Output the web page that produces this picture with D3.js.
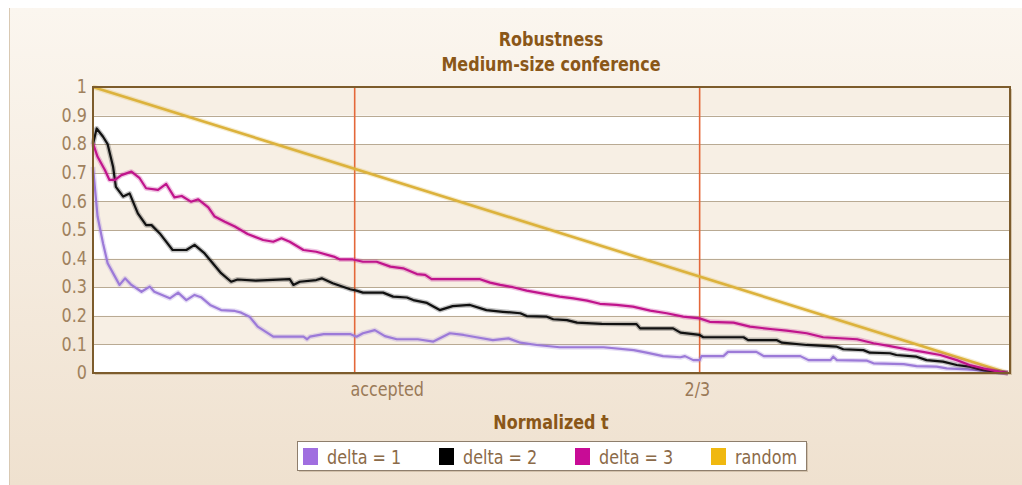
<!DOCTYPE html>
<html>
<head>
<meta charset="utf-8">
<script src="https://cdn.jsdelivr.net/npm/d3@7"></script>
<style>
  html, body { margin: 0; padding: 0; background: #fff; }
  svg { display: block; font-family: "DejaVu Sans", Verdana, sans-serif; }
</style>
</head>
<body>
<div id="chart"></div>
<script>
var w = 1022, h = 485;

// series: [normalized t, robustness]
var delta1 = [
  [0,0.72],[0.002,0.651],[0.005,0.547],[0.011,0.453],[0.016,0.384],[0.024,0.337],[0.029,0.308],
  [0.035,0.331],[0.042,0.308],[0.053,0.284],[0.062,0.302],[0.067,0.284],[0.084,0.261],[0.093,0.281],
  [0.102,0.255],[0.111,0.273],[0.118,0.265],[0.128,0.238],[0.140,0.22],[0.155,0.217],[0.162,0.211],
  [0.171,0.197],[0.177,0.174],[0.180,0.162],[0.197,0.127],[0.230,0.127],[0.234,0.118],[0.237,0.127],
  [0.252,0.136],[0.281,0.136],[0.288,0.127],[0.295,0.139],[0.308,0.15],[0.319,0.129],[0.332,0.118],
  [0.355,0.118],[0.372,0.11],[0.390,0.139],[0.405,0.133],[0.419,0.125],[0.437,0.115],[0.454,0.121],
  [0.467,0.106],[0.485,0.098],[0.510,0.09],[0.558,0.09],[0.591,0.08],[0.605,0.071],[0.623,0.059],
  [0.642,0.055],[0.647,0.059],[0.656,0.045],[0.663,0.045],[0.665,0.059],[0.689,0.059],[0.694,0.074],
  [0.725,0.074],[0.733,0.059],[0.773,0.059],[0.782,0.045],[0.806,0.045],[0.809,0.057],[0.813,0.045],
  [0.846,0.043],[0.853,0.034],[0.886,0.031],[0.900,0.024],[0.922,0.022],[0.933,0.016],[0.955,0.013],
  [0.973,0.008],[0.991,0.002],[1,0]
];
var delta2 = [
  [0,0.80],[0.004,0.855],[0.011,0.826],[0.016,0.80],[0.022,0.72],[0.025,0.651],[0.033,0.617],
  [0.040,0.628],[0.049,0.558],[0.058,0.517],[0.064,0.517],[0.073,0.488],[0.087,0.43],[0.102,0.43],
  [0.111,0.448],[0.122,0.418],[0.140,0.349],[0.151,0.319],[0.158,0.327],[0.178,0.323],[0.215,0.328],
  [0.219,0.308],[0.226,0.319],[0.244,0.325],[0.250,0.331],[0.262,0.314],[0.281,0.293],[0.288,0.288],
  [0.295,0.281],[0.317,0.281],[0.328,0.267],[0.343,0.264],[0.350,0.255],[0.365,0.245],[0.379,0.22],
  [0.393,0.234],[0.412,0.238],[0.430,0.22],[0.448,0.214],[0.467,0.209],[0.474,0.199],[0.496,0.197],
  [0.503,0.188],[0.518,0.185],[0.529,0.176],[0.556,0.172],[0.594,0.171],[0.598,0.156],[0.634,0.156],
  [0.642,0.141],[0.663,0.133],[0.667,0.125],[0.711,0.125],[0.716,0.115],[0.747,0.115],[0.753,0.106],
  [0.780,0.098],[0.813,0.092],[0.820,0.083],[0.842,0.08],[0.849,0.071],[0.871,0.069],[0.878,0.063],
  [0.900,0.057],[0.911,0.045],[0.929,0.04],[0.944,0.028],[0.958,0.022],[0.973,0.01],[0.991,0.003],[1,0]
];
var delta3 = [
  [0,0.803],[0.005,0.756],[0.013,0.71],[0.018,0.675],[0.024,0.675],[0.031,0.692],[0.042,0.704],
  [0.051,0.681],[0.058,0.646],[0.071,0.64],[0.080,0.661],[0.089,0.614],[0.097,0.619],[0.107,0.599],
  [0.115,0.607],[0.126,0.579],[0.133,0.547],[0.144,0.529],[0.155,0.512],[0.169,0.486],[0.186,0.465],
  [0.197,0.459],[0.206,0.471],[0.215,0.459],[0.230,0.43],[0.244,0.424],[0.263,0.407],[0.270,0.397],
  [0.284,0.397],[0.295,0.389],[0.310,0.389],[0.325,0.372],[0.339,0.366],[0.354,0.346],[0.363,0.343],
  [0.370,0.328],[0.423,0.328],[0.434,0.316],[0.445,0.308],[0.459,0.30],[0.474,0.288],[0.489,0.279],
  [0.510,0.267],[0.525,0.261],[0.540,0.253],[0.554,0.242],[0.572,0.238],[0.590,0.232],[0.609,0.218],
  [0.627,0.209],[0.645,0.197],[0.663,0.191],[0.674,0.179],[0.700,0.176],[0.718,0.162],[0.743,0.153],
  [0.758,0.148],[0.780,0.139],[0.798,0.125],[0.835,0.118],[0.853,0.104],[0.871,0.094],[0.889,0.083],
  [0.907,0.074],[0.926,0.063],[0.944,0.045],[0.958,0.028],[0.973,0.016],[0.991,0.004],[1,0]
];
var random = [[0,1],[1,0]];

var seriesNames = ['delta = 1', 'delta = 2', 'delta = 3', 'random'];
var seriesData = [delta1, delta2, delta3, random];
var lineColors = ['#9c7ad8', '#111111', '#c0148c', '#dcb23c'];
var swatchColors = ['#a06ee0', '#000000', '#c80c96', '#f0b810'];

var yTicks = [0, 0.1, 0.2, 0.3, 0.4, 0.5, 0.6, 0.7, 0.8, 0.9, 1];
var markerT = [0.286, 0.663];
var xTickT = [0.321, 0.660];
var xTickLabels = ['accepted', '2/3'];

var title = 'Robustness';
var subtitle = 'Medium-size conference';
var xTitle = 'Normalized t';

var plot = {left: 93, right: 1010, top: 87, bottom: 373};

var x = d3.scaleLinear().domain([0, 1]).range([plot.left, plot.right - 2]);
var y = d3.scaleLinear().domain([0, 1]).range([plot.bottom, plot.top]);

var svg = d3.select('#chart').append('svg')
  .attr('width', w)
  .attr('height', h);

var defs = svg.append('defs');
var grad = defs.append('linearGradient')
  .attr('id', 'bg')
  .attr('x1', 0).attr('y1', 0).attr('x2', 0).attr('y2', 1);
grad.append('stop').attr('offset', '0%').attr('stop-color', '#fbf6ef');
grad.append('stop').attr('offset', '100%').attr('stop-color', '#efe1cf');

// panel
svg.append('rect')
  .attr('x', 9).attr('y', 8)
  .attr('width', w - 9).attr('height', h - 8)
  .attr('fill', 'url(#bg)');
svg.append('line')
  .attr('x1', 9.5).attr('x2', 9.5).attr('y1', 8).attr('y2', h)
  .attr('stroke', '#d9c9b3');

// titles
function stretchText(sel, tx, ty) {
  return sel.append('g').attr('transform', 'translate(' + [tx, ty] + ') scale(1,1.2)').append('text');
}
stretchText(svg, 551, 39)
  .attr('text-anchor', 'middle').attr('dy', '0.35em')
  .style('font-size', '16px').style('font-weight', 'bold').attr('fill', '#8a5718')
  .text(title);
stretchText(svg, 551, 64)
  .attr('text-anchor', 'middle').attr('dy', '0.35em')
  .style('font-size', '16px').style('font-weight', 'bold').attr('fill', '#8a5718')
  .text(subtitle);

// plot background bands
var pw = plot.right - plot.left;
svg.append('rect')
  .attr('x', plot.left + 2).attr('y', plot.top + 2)
  .attr('width', pw).attr('height', plot.bottom - plot.top)
  .attr('fill', '#c9b395').attr('opacity', 0.7);
svg.append('rect')
  .attr('x', plot.left).attr('y', plot.top)
  .attr('width', pw).attr('height', plot.bottom - plot.top)
  .attr('fill', '#ffffff');
svg.selectAll('.band')
  .data(yTicks.slice(1).filter(function(d, i) { return i % 2 === 1; }))
  .enter().append('rect')
    .attr('class', 'band')
    .attr('x', plot.left)
    .attr('y', function(d) { return y(d); })
    .attr('width', pw)
    .attr('height', function(d) { return y(d - 0.1) - y(d); })
    .attr('fill', '#f7efe4');

// grid
svg.selectAll('.grid')
  .data(yTicks.slice(1, -1))
  .enter().append('line')
    .attr('class', 'grid')
    .attr('x1', plot.left).attr('x2', plot.right)
    .attr('y1', function(d) { return Math.round(y(d)) + 0.5; })
    .attr('y2', function(d) { return Math.round(y(d)) + 0.5; })
    .attr('stroke', '#b9aa93').attr('stroke-width', 1);

// markers
svg.selectAll('.marker')
  .data(markerT)
  .enter().append('line')
    .attr('class', 'marker')
    .attr('x1', function(d) { return x(d); }).attr('x2', function(d) { return x(d); })
    .attr('y1', plot.top).attr('y2', plot.bottom)
    .attr('stroke', '#e4683a').attr('stroke-width', 1.6);

// series lines
var line = d3.line()
  .x(function(d) { return x(d[0]); })
  .y(function(d) { return y(d[1]); });

var order = [3, 0, 1, 2];
order.forEach(function(i) {
  svg.append('path')
    .datum(seriesData[i])
    .attr('d', line)
    .attr('fill', 'none')
    .attr('stroke', lineColors[i])
    .attr('stroke-opacity', 0.25)
    .attr('stroke-width', 5)
    .attr('stroke-linejoin', 'round');
  svg.append('path')
    .datum(seriesData[i])
    .attr('d', line)
    .attr('fill', 'none')
    .attr('stroke', lineColors[i])
    .attr('stroke-width', i === 3 ? 2.6 : 2.2)
    .attr('stroke-linejoin', 'round');
});

// plot border
svg.append('rect')
  .attr('x', plot.left).attr('y', plot.top)
  .attr('width', pw).attr('height', plot.bottom - plot.top)
  .attr('fill', 'none')
  .attr('stroke', '#7d5c2c').attr('stroke-width', 2);

// axes
var yAxis = d3.axisLeft(y)
  .tickValues(yTicks)
  .tickFormat(function(d) { return d3.format('~g')(d); })
  .tickSize(0)
  .tickPadding(6);
var yAxisG = svg.append('g')
  .attr('class', 'y axis')
  .attr('transform', 'translate(' + [plot.left, 0] + ')')
  .call(yAxis);
yAxisG.select('.domain').remove();
yAxisG.selectAll('text')
  .attr('transform', 'scale(1,1.2)')
  .attr('dy', '0.3em')
  .style('font-size', '16px')
  .style('font-family', '"DejaVu Sans", Verdana, sans-serif')
  .attr('fill', '#a0825e');

var xAxis = d3.axisBottom(x)
  .tickValues(xTickT)
  .tickFormat(function(d, i) { return xTickLabels[i]; })
  .tickSize(0)
  .tickPadding(0);
var xAxisG = svg.append('g')
  .attr('class', 'x axis')
  .attr('transform', 'translate(' + [0, plot.bottom] + ')')
  .call(xAxis);
xAxisG.select('.domain').remove();
xAxisG.selectAll('text')
  .attr('y', 0)
  .attr('dy', 0)
  .attr('transform', 'translate(0,18) scale(1,1.2)')
  .attr('dominant-baseline', 'middle')
  .style('font-size', '16px')
  .style('font-family', '"DejaVu Sans", Verdana, sans-serif')
  .attr('fill', '#9a7a58');

stretchText(svg, 551, 422)
  .attr('text-anchor', 'middle').attr('dy', '0.35em')
  .style('font-size', '16px').style('font-weight', 'bold').attr('fill', '#8a5718')
  .text(xTitle);

// legend
var legend = svg.append('g').attr('transform', 'translate(297,441)');
legend.append('rect')
  .attr('x', 2).attr('y', 2).attr('width', 509).attr('height', 29)
  .attr('fill', '#c8b59c').attr('opacity', 0.7);
legend.append('rect')
  .attr('x', 0.5).attr('y', 0.5).attr('width', 509).attr('height', 29)
  .attr('fill', '#ffffff').attr('stroke', '#8e7e6c');
var item = legend.selectAll('.item')
  .data(seriesNames)
  .enter().append('g')
    .attr('class', 'item')
    .attr('transform', function(d, i) { return 'translate(' + [6 + i * 136, 0] + ')'; });
item.append('rect')
  .attr('x', 0).attr('y', 7)
  .attr('width', 15).attr('height', 17)
  .attr('fill', function(d, i) { return swatchColors[i]; });
item.append('g')
  .attr('transform', 'translate(24,16) scale(1,1.2)')
  .append('text')
    .attr('dy', '0.35em')
    .style('font-size', '16px')
    .attr('fill', '#8b6a48')
    .text(function(d) { return d; });
</script>
</body>
</html>
